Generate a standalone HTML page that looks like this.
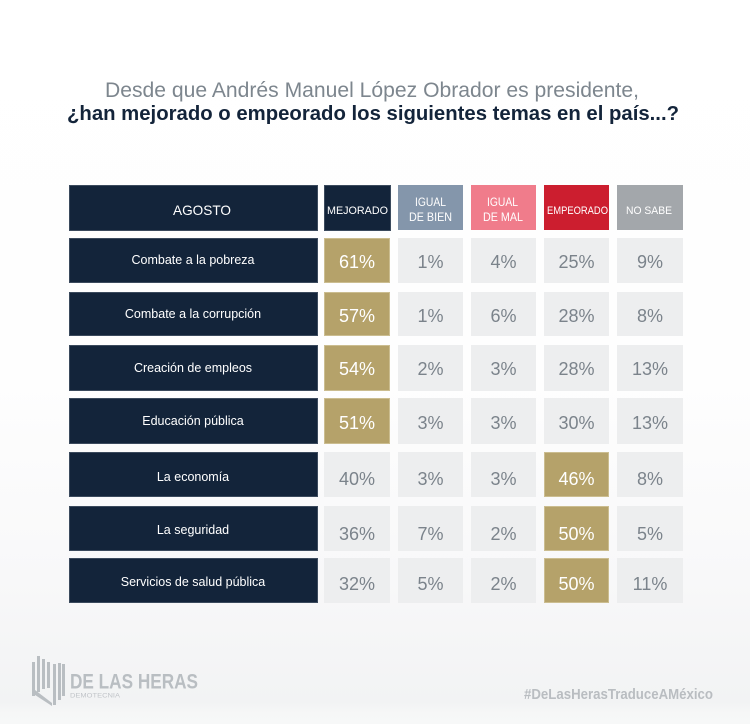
<!DOCTYPE html>
<html><head><meta charset="utf-8"><style>
html,body{margin:0;padding:0;width:750px;height:724px;overflow:hidden;background:#fff}
svg{display:block}
text{font-family:"Liberation Sans",sans-serif}
</style></head><body>
<svg width="750" height="724" viewBox="0 0 750 724" xmlns="http://www.w3.org/2000/svg">
<defs>
<linearGradient id="bg" x1="0" y1="0" x2="0" y2="1">
<stop offset="0" stop-color="#ffffff"/>
<stop offset="0.52" stop-color="#fefefe"/>
<stop offset="0.8" stop-color="#f8f8f9"/>
<stop offset="0.97" stop-color="#f2f3f4"/>
<stop offset="0.985" stop-color="#f6f7f7"/>
<stop offset="1" stop-color="#f7f8f8"/>
</linearGradient>
</defs>
<rect x="0" y="0" width="750" height="724" fill="url(#bg)"/>

<!-- Title -->
<text x="105" y="97" font-size="21.5" fill="#7d868e" textLength="534" lengthAdjust="spacingAndGlyphs">Desde que Andrés Manuel López Obrador es presidente,</text>
<text x="67" y="120" font-size="20" font-weight="bold" fill="#13243a" textLength="612" lengthAdjust="spacingAndGlyphs">¿han mejorado o empeorado los siguientes temas en el país...?</text>

<!-- Header row -->
<rect x="69.5" y="185.5" width="248" height="45" fill="#13243a" stroke="#3b4a5d" stroke-width="1"/>
<text x="173" y="215" font-size="14" fill="#fff" textLength="58" lengthAdjust="spacingAndGlyphs">AGOSTO</text>
<rect x="324.5" y="185.5" width="66" height="45" fill="#13243a" stroke="#3b4a5d" stroke-width="1"/>
<text x="327" y="214" font-size="11" fill="#fff" textLength="61" lengthAdjust="spacingAndGlyphs">MEJORADO</text>
<rect x="398" y="185" width="65" height="45" fill="#8496ab"/>
<text x="415" y="206" font-size="11.5" fill="#fff" textLength="31" lengthAdjust="spacingAndGlyphs">IGUAL</text>
<text x="409" y="221" font-size="11.5" fill="#fff" textLength="43" lengthAdjust="spacingAndGlyphs">DE BIEN</text>
<rect x="471" y="185" width="65" height="45" fill="#f07c8b"/>
<text x="487" y="206" font-size="11.5" fill="#fff" textLength="31" lengthAdjust="spacingAndGlyphs">IGUAL</text>
<text x="483" y="221" font-size="11.5" fill="#fff" textLength="40" lengthAdjust="spacingAndGlyphs">DE MAL</text>
<rect x="544" y="185" width="65" height="45" fill="#cc1e2f"/>
<text x="547" y="214" font-size="11" fill="#fff" textLength="61" lengthAdjust="spacingAndGlyphs">EMPEORADO</text>
<rect x="617" y="185" width="66" height="45" fill="#a3a7ab"/>
<text x="626" y="214" font-size="11" fill="#fff" textLength="46" lengthAdjust="spacingAndGlyphs">NO SABE</text>

<!-- Rows -->
<g id="rows">
<!-- Row 1 -->
<rect x="69.5" y="238.5" width="248" height="44" fill="#13243a" stroke="#3b4a5d"/>
<text x="193" y="264" font-size="12.5" fill="#fff" text-anchor="middle">Combate a la pobreza</text>
<!-- Row 2 -->
<rect x="69.5" y="292.5" width="248" height="43" fill="#13243a" stroke="#3b4a5d"/>
<text x="193" y="318" font-size="12.5" fill="#fff" text-anchor="middle">Combate a la corrupción</text>
<!-- Row 3 -->
<rect x="69.5" y="345.5" width="248" height="45" fill="#13243a" stroke="#3b4a5d"/>
<text x="193" y="372" font-size="12.5" fill="#fff" text-anchor="middle">Creación de empleos</text>
<!-- Row 4 -->
<rect x="69.5" y="398.5" width="248" height="45" fill="#13243a" stroke="#3b4a5d"/>
<text x="193" y="425" font-size="12.5" fill="#fff" text-anchor="middle">Educación pública</text>
<!-- Row 5 -->
<rect x="69.5" y="452.5" width="248" height="44" fill="#13243a" stroke="#3b4a5d"/>
<text x="193" y="481" font-size="12.5" fill="#fff" text-anchor="middle">La economía</text>
<!-- Row 6 -->
<rect x="69.5" y="506.5" width="248" height="44" fill="#13243a" stroke="#3b4a5d"/>
<text x="193" y="534" font-size="12.5" fill="#fff" text-anchor="middle">La seguridad</text>
<!-- Row 7 -->
<rect x="69.5" y="558.5" width="248" height="44" fill="#13243a" stroke="#3b4a5d"/>
<text x="193" y="586" font-size="12.5" fill="#fff" text-anchor="middle">Servicios de salud pública</text>
</g>

<!-- Value cells -->
<g font-size="18" text-anchor="middle">
<!-- Row 1: y 238 h45 baseline 268 -->
<rect x="324.5" y="238.5" width="65" height="44" fill="#b5a26a" stroke="#cbbd90"/>
<text x="357" y="268" fill="#fff">61%</text>
<rect x="398" y="238" width="65" height="45" fill="#edeeef"/><text x="430.5" y="268" fill="#7b838b">1%</text>
<rect x="471" y="238" width="65" height="45" fill="#edeeef"/><text x="503.5" y="268" fill="#7b838b">4%</text>
<rect x="544" y="238" width="65" height="45" fill="#edeeef"/><text x="576.5" y="268" fill="#7b838b">25%</text>
<rect x="617" y="238" width="66" height="45" fill="#edeeef"/><text x="650" y="268" fill="#7b838b">9%</text>

<!-- Row 2 -->
<rect x="324.5" y="292.5" width="65" height="43" fill="#b5a26a" stroke="#cbbd90"/>
<text x="357" y="322" fill="#fff">57%</text>
<rect x="398" y="292" width="65" height="44" fill="#edeeef"/><text x="430.5" y="322" fill="#7b838b">1%</text>
<rect x="471" y="292" width="65" height="44" fill="#edeeef"/><text x="503.5" y="322" fill="#7b838b">6%</text>
<rect x="544" y="292" width="65" height="44" fill="#edeeef"/><text x="576.5" y="322" fill="#7b838b">28%</text>
<rect x="617" y="292" width="66" height="44" fill="#edeeef"/><text x="650" y="322" fill="#7b838b">8%</text>

<!-- Row 3 -->
<rect x="324.5" y="345.5" width="65" height="45" fill="#b5a26a" stroke="#cbbd90"/>
<text x="357" y="375" fill="#fff">54%</text>
<rect x="398" y="345" width="65" height="46" fill="#edeeef"/><text x="430.5" y="375" fill="#7b838b">2%</text>
<rect x="471" y="345" width="65" height="46" fill="#edeeef"/><text x="503.5" y="375" fill="#7b838b">3%</text>
<rect x="544" y="345" width="65" height="46" fill="#edeeef"/><text x="576.5" y="375" fill="#7b838b">28%</text>
<rect x="617" y="345" width="66" height="46" fill="#edeeef"/><text x="650" y="375" fill="#7b838b">13%</text>

<!-- Row 4 -->
<rect x="324.5" y="398.5" width="65" height="45" fill="#b5a26a" stroke="#cbbd90"/>
<text x="357" y="429" fill="#fff">51%</text>
<rect x="398" y="398" width="65" height="46" fill="#edeeef"/><text x="430.5" y="429" fill="#7b838b">3%</text>
<rect x="471" y="398" width="65" height="46" fill="#edeeef"/><text x="503.5" y="429" fill="#7b838b">3%</text>
<rect x="544" y="398" width="65" height="46" fill="#edeeef"/><text x="576.5" y="429" fill="#7b838b">30%</text>
<rect x="617" y="398" width="66" height="46" fill="#edeeef"/><text x="650" y="429" fill="#7b838b">13%</text>

<!-- Row 5 -->
<rect x="324" y="452" width="66" height="45" fill="#edeeef"/><text x="357" y="485" fill="#7b838b">40%</text>
<rect x="398" y="452" width="65" height="45" fill="#edeeef"/><text x="430.5" y="485" fill="#7b838b">3%</text>
<rect x="471" y="452" width="65" height="45" fill="#edeeef"/><text x="503.5" y="485" fill="#7b838b">3%</text>
<rect x="544.5" y="452.5" width="64" height="44" fill="#b5a26a" stroke="#cbbd90"/><text x="576.5" y="485" fill="#fff">46%</text>
<rect x="617" y="452" width="66" height="45" fill="#edeeef"/><text x="650" y="485" fill="#7b838b">8%</text>

<!-- Row 6 -->
<rect x="324" y="506" width="66" height="45" fill="#edeeef"/><text x="357" y="540" fill="#7b838b">36%</text>
<rect x="398" y="506" width="65" height="45" fill="#edeeef"/><text x="430.5" y="540" fill="#7b838b">7%</text>
<rect x="471" y="506" width="65" height="45" fill="#edeeef"/><text x="503.5" y="540" fill="#7b838b">2%</text>
<rect x="544.5" y="506.5" width="64" height="44" fill="#b5a26a" stroke="#cbbd90"/><text x="576.5" y="540" fill="#fff">50%</text>
<rect x="617" y="506" width="66" height="45" fill="#edeeef"/><text x="650" y="540" fill="#7b838b">5%</text>

<!-- Row 7 -->
<rect x="324" y="558" width="66" height="45" fill="#edeeef"/><text x="357" y="590" fill="#7b838b">32%</text>
<rect x="398" y="558" width="65" height="45" fill="#edeeef"/><text x="430.5" y="590" fill="#7b838b">5%</text>
<rect x="471" y="558" width="65" height="45" fill="#edeeef"/><text x="503.5" y="590" fill="#7b838b">2%</text>
<rect x="544.5" y="558.5" width="64" height="44" fill="#b5a26a" stroke="#cbbd90"/><text x="576.5" y="590" fill="#fff">50%</text>
<rect x="617" y="558" width="66" height="45" fill="#edeeef"/><text x="650" y="590" fill="#7b838b">11%</text>
</g>

<!-- Logo -->
<g fill="#b9bec2">
<rect x="32" y="662" width="3" height="34"/>
<rect x="37" y="656" width="3" height="36"/>
<rect x="42" y="659" width="3" height="30"/>
<rect x="47" y="662" width="3" height="26"/>
<polygon points="32,693 35,690 52,703 52,706"/>
<rect x="53" y="664" width="3" height="41"/>
<rect x="58" y="663" width="3" height="37"/>
<rect x="62" y="664" width="3" height="32"/>
</g>
<text x="70" y="688.5" font-size="21" font-weight="bold" fill="#b9bec2" textLength="128" lengthAdjust="spacingAndGlyphs">DE LAS HERAS</text>
<text x="70" y="697.5" font-size="6.5" fill="#c0c4c8" textLength="50" lengthAdjust="spacingAndGlyphs">DEMOTECNIA</text>

<text x="524" y="699" font-size="14.5" font-weight="bold" fill="#b9bdc1" textLength="189" lengthAdjust="spacingAndGlyphs">#DeLasHerasTraduceAMéxico</text>
</svg>
</body></html>
